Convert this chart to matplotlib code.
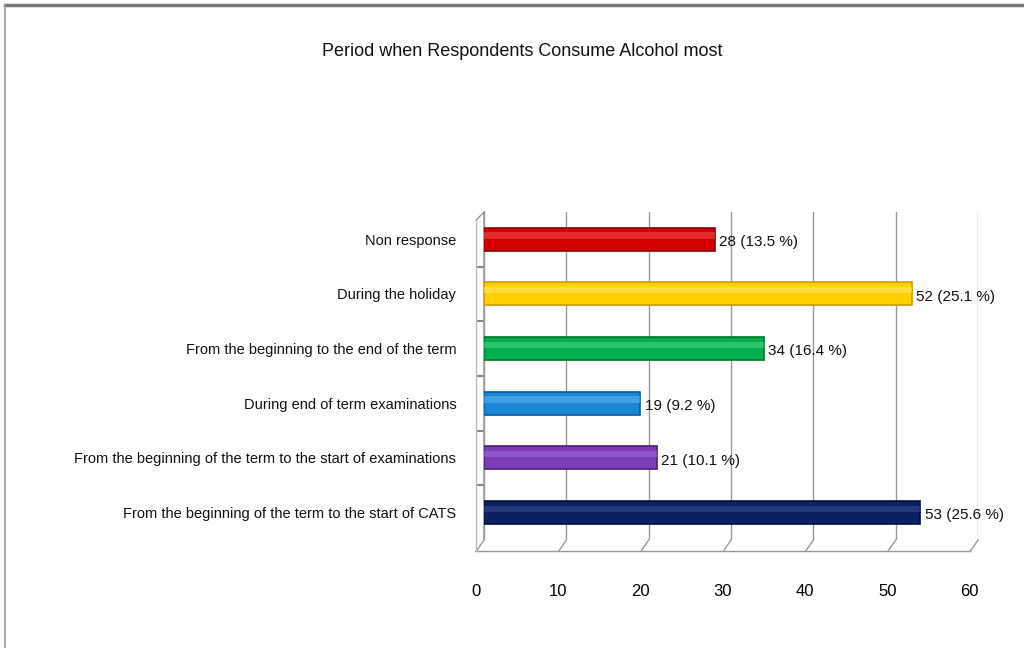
import matplotlib.pyplot as plt
from matplotlib.transforms import ScaledTranslation

categories = ['From the beginning of the term to the start of CATS',
              'From the beginning of the term to the start of examinations',
              'During end of term examinations',
              'From the beginning to the end of the term',
              'During the holiday',
              'Non response']
counts = [53, 21, 19, 34, 52, 28]
percents = [25.6, 10.1, 9.2, 16.4, 25.1, 13.5]
colors = ['#0b1f63', '#7b3db8', '#1a86d6', '#00b04f', '#ffd000', '#d40000']
edges = ['#050f3a', '#4a1f7a', '#0b5a9a', '#00752f', '#c89a00', '#8a0000']
highlights = ['#34498a', '#9c6ad2', '#5cb0ec', '#4cd084', '#ffe466', '#ee4848']
xticks = [0, 10, 20, 30, 40, 50, 60]

plt.rcParams['font.family'] = ['Liberation Sans', 'DejaVu Sans']

fig = plt.figure(figsize=(10.24, 6.48), dpi=100)
ax = fig.add_axes([0.4727, 0.1667, 0.4824, 0.5062])

y = list(range(len(categories)))
ax.barh(y, counts, height=0.42, color=colors, edgecolor=edges, linewidth=1.2, zorder=3)
# shine stripe along the top of each cylinder
ax.barh([v + 0.07 for v in y], counts, height=0.12, color=highlights, linewidth=0, alpha=0.6, zorder=4)

for yi, c, p in zip(y, counts, percents):
    ax.text(c + 0.5, yi - 0.05, '%d (%.1f %%)' % (c, p), va='center', ha='left',
            fontsize=11, color='#111111', zorder=5)

ax.set_xlim(0, 60)
ax.set_ylim(-0.5, 5.5)
ax.set_xticks(xticks)
ax.set_yticks(y)
ax.set_yticklabels(categories, fontsize=10.5, color='#111111')
ax.set_yticks([v + 0.5 for v in y[:-1]], minor=True)
ax.tick_params(axis='y', which='major', length=0, pad=20)
ax.tick_params(axis='y', which='minor', length=5, color='#888888', width=1.5)
ax.tick_params(axis='x', length=0, pad=32, labelsize=12)
for lab in ax.get_xticklabels():
    lab.set_transform(lab.get_transform() + ScaledTranslation(-6 / 72, 0, fig.dpi_scale_trans))

ax.grid(axis='x', color='#999999', linewidth=1, zorder=0)
for s in ['top', 'right', 'bottom']:
    ax.spines[s].set_visible(False)
ax.spines['left'].set_color('#999999')
ax.spines['left'].set_linewidth(1.2)

# 3D floor edge
dx, dy = -0.016, -0.035
for t in xticks:
    xf = t / 60
    ax.plot([xf, xf + dx], [0, dy], transform=ax.transAxes, color='#999999', lw=1, clip_on=False)
ax.plot([dx, 1 + dx], [dy, dy], transform=ax.transAxes, color='#999999', lw=1, clip_on=False)
ax.plot([0, dx], [1, 0.975], transform=ax.transAxes, color='#999999', lw=1, clip_on=False)
ax.plot([dx, dx], [0.975, dy], transform=ax.transAxes, color='#bbbbbb', lw=1, clip_on=False)

fig.text(0.51, 0.92, 'Period when Respondents Consume Alcohol most', ha='center', va='center',
         fontsize=13, color='#111111')

# page frame
fig.add_artist(plt.Line2D([0.005, 1], [0.992, 0.992], color='#777777', lw=2.5))
fig.add_artist(plt.Line2D([0.005, 0.005], [0, 0.992], color='#999999', lw=1.2))

fig.savefig('out.png', dpi=100)
